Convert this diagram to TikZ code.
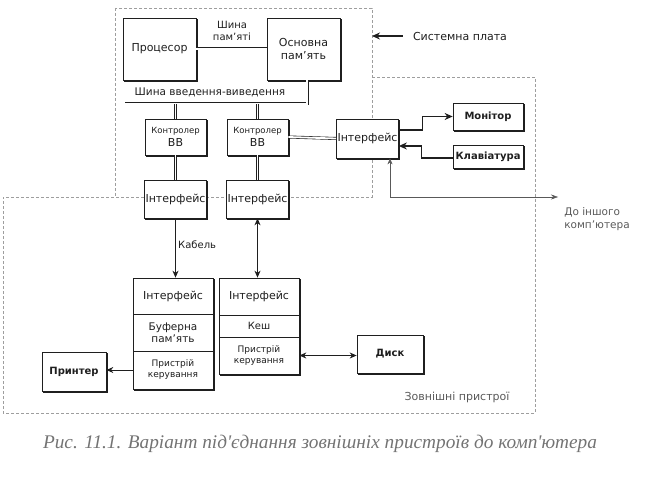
\documentclass[tikz,border=0pt]{standalone}
\usepackage{fontspec}
\setmainfont{DejaVu Sans}
\newfontfamily\capfont{Liberation Serif}
\usetikzlibrary{arrows.meta,shadows,calc}
\definecolor{ink}{gray}{0.12}
\definecolor{bnd}{gray}{0.62}
\definecolor{soft}{gray}{0.35}
\begin{document}
\begin{tikzpicture}[x=1pt,y=-1pt,
  blk/.style={draw=ink, fill=white, line width=0.7pt,
    copy shadow={shadow xshift=1.3pt, shadow yshift=-1.6pt},
    inner sep=1pt, align=center, text=ink,
    font=\fontsize{11}{13}\selectfont},
  cell/.style={draw=ink, fill=white, line width=0.7pt, inner sep=1pt,
    align=center, text=ink, minimum width=80pt,
    font=\fontsize{11}{13}\selectfont},
  bus/.style={draw=ink, double=white, double distance=1.8pt, line width=0.6pt},
  arr/.style={draw=ink, line width=0.8pt, -{Stealth[length=7pt,width=6pt]}},
  arrb/.style={draw=ink, line width=0.8pt, {Stealth[length=7pt,width=6pt]}-{Stealth[length=7pt,width=6pt]}},
  thk/.style={draw=ink, line width=1.3pt, -{Stealth[length=8pt,width=7pt]}},
  garr/.style={draw=soft, line width=0.5pt, {Stealth[length=6pt,width=5pt]}-{Stealth[length=7pt,width=5pt]}},
  bound/.style={draw=bnd, line width=0.5pt, dash pattern=on 3pt off 2pt},
  lbl/.style={text=ink, inner sep=0pt, align=center, font=\fontsize{10}{11.5}\selectfont},
  glbl/.style={text=soft, inner sep=0pt, align=left, font=\fontsize{10.5}{12.5}\selectfont}
]
\useasboundingbox (0,0) rectangle (669,486);

% dashed regions
\draw[bound] (115,8) rectangle (372,197);
\draw[bound] (372,77) -- (535,77) -- (535,413) -- (3,413) -- (3,197) -- (372,197);

% system board
\node[blk, minimum width=73pt, minimum height=62pt] (cpu) at (159.5,49) {Процесор};
\node[blk, minimum width=73pt, minimum height=62pt] (mem) at (303.5,49) {Основна\\пам'ять};
\draw[bus] (cpu.east) -- (mem.west);
\node[lbl] (mbus) at (232,31) {Шина\\пам'яті};

\node[blk, minimum width=61pt, minimum height=36pt] (ctl1) at (175.5,137)
  {{\fontsize{8.5}{10}\selectfont Контролер}\\ВВ};
\node[blk, minimum width=61pt, minimum height=36pt] (ctl2) at (257.5,137)
  {{\fontsize{8.5}{10}\selectfont Контролер}\\ВВ};
\node[blk, minimum width=61pt, minimum height=38pt] (if1) at (175.5,199) {Інтерфейс};
\node[blk, minimum width=61pt, minimum height=38pt] (if2) at (257.5,199) {Інтерфейс};
\node[blk, minimum width=61pt, minimum height=39pt] (ifr) at (367.5,138.5) {Інтерфейс};

\coordinate (busL) at (125,104);
\coordinate (busX) at (307,104);
\draw[bus] (busL) -- (busX) -- (busX |- mem.south);
\node[lbl, font=\fontsize{10.5}{12}\selectfont] (iobus) at (210,92) {Шина введення-виведення};
\draw[bus] (ctl1.north |- busL) -- (ctl1.north);
\draw[bus] (ctl2.north |- busL) -- (ctl2.north);
\draw[bus] (ctl1.south) -- (if1.north);
\draw[bus] (ctl2.south) -- (if2.north);
\draw[bus] (ctl2.east) -- (ifr.west);

\node[lbl, font=\fontsize{11}{13}\selectfont] (sys) at (460,36) {Системна плата};
\coordinate (sysend) at (372,36);
\draw[thk] ([xshift=-10pt]sys.west) -- (sysend);

% peripherals on board
\node[blk, font=\bfseries\fontsize{10}{12}\selectfont, minimum width=70pt, minimum height=27pt] (mon) at (488,116.5) {Монітор};
\node[blk, font=\bfseries\fontsize{10}{12}\selectfont, minimum width=70pt, minimum height=23pt] (kbd) at (488,156.5) {Клавіатура};
\draw[thk] ([yshift=8.5pt]ifr.east) -- ++(24,0) |- (mon.west);
\draw[thk] ([yshift=-1.5pt]kbd.west) -- ++(-31,0) |- ([yshift=-7.5pt]ifr.east);

\coordinate (oc) at (558,197);
\draw[garr] ([xshift=22.5pt]ifr.south) -- ([xshift=22.5pt]ifr.south |- oc) -- (oc);
\node[glbl] (octxt) at (597,219) {До іншого\\комп'ютера};

% external devices
\node[blk, minimum width=80pt, minimum height=111pt] (ps) at (173,333.5) {};
\node[cell, minimum height=36pt] (ps1) at (173,296) {Інтерфейс};
\node[cell, minimum height=37pt, font=\fontsize{10.5}{12.5}\selectfont] (ps2) at (173,332.5) {Буферна\\пам'ять};
\node[cell, minimum height=38pt, font=\fontsize{9}{11}\selectfont] (ps3) at (173,370) {Пристрій\\керування};

\node[blk, minimum width=80pt, minimum height=96pt] (ds) at (259,326) {};
\node[cell, minimum height=37pt] (ds1) at (259,296.5) {Інтерфейс};
\node[cell, minimum height=22pt, font=\fontsize{10}{12}\selectfont] (ds2) at (259,326) {Кеш};
\node[cell, minimum height=37pt, font=\fontsize{9}{11}\selectfont] (ds3) at (259,355.5) {Пристрій\\керування};

\node[blk, font=\bfseries\fontsize{10}{12}\selectfont, minimum width=64pt, minimum height=39pt] (prn) at (74,371.5) {Принтер};
\node[blk, font=\bfseries\fontsize{10}{12}\selectfont, minimum width=66pt, minimum height=38pt] (disk) at (390,354) {Диск};

\draw[arr] (if1.south) -- (if1.south |- ps.north);
\node[lbl, anchor=west] (cab) at (178,245) {Кабель};
\draw[arrb] (if2.south) -- (if2.south |- ds.north);
\draw[arr] (ps3.west) -- (ps3.west -| prn.east);
\draw[arrb] (ds3.east) -- (ds3.east -| disk.west);

\node[glbl, font=\fontsize{11}{13}\selectfont] (ext) at (457,397) {Зовнішні пристрої};

% caption
\node[text=black!55, inner sep=0pt, font=\capfont\itshape\fontsize{19.3}{22}\selectfont] (cap) at (320,444)
  {Рис. 11.1. Варіант під'єднання зовнішніх пристроїв до комп'ютера};
\end{tikzpicture}
\end{document}
